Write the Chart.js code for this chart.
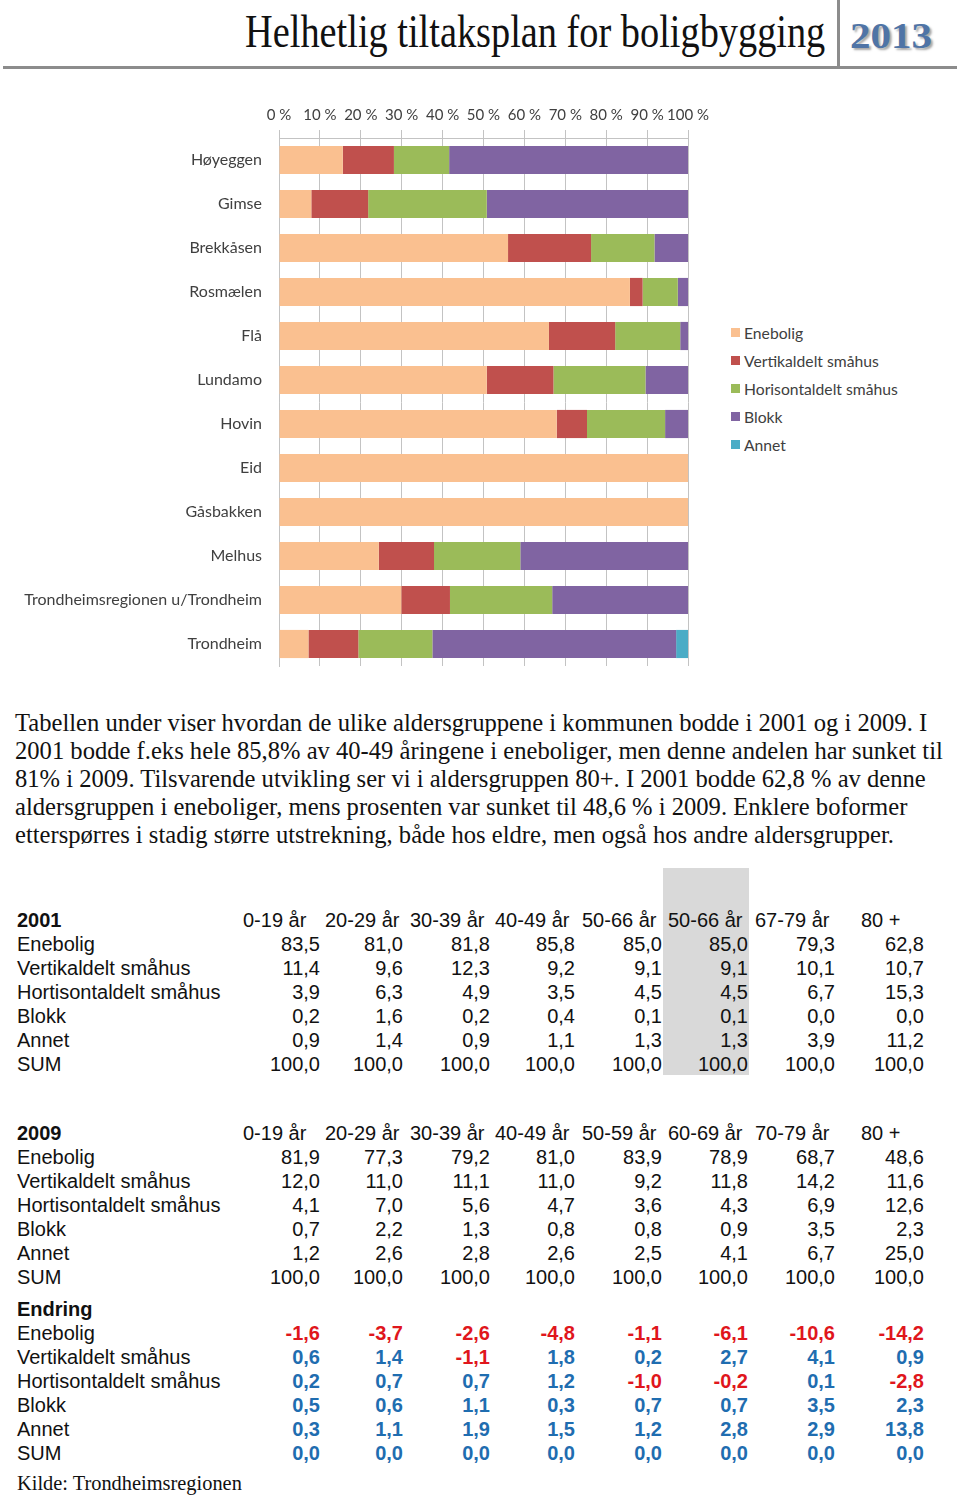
<!DOCTYPE html>
<html lang="no">
<head>
<meta charset="utf-8">
<title>Helhetlig tiltaksplan for boligbygging 2013</title>
<script src="https://cdn.jsdelivr.net/npm/chart.js@4.4.0/dist/chart.umd.min.js"></script>
<style>
  html, body { margin: 0; padding: 0; background: #fff; }
  body { width: 960px; height: 1495px; position: relative; overflow: hidden; }
  .abs { position: absolute; white-space: nowrap; }
  #tittel { font-family: "Liberation Serif", serif; font-size: 46px; line-height: 60px; color: #111; transform-origin: right center; }
  #aar { font-family: "Liberation Serif", serif; font-weight: bold; font-size: 36px; line-height: 44px; color: #4f74a6; text-shadow: 2px 2px 2px rgba(0,0,0,0.35); transform-origin: left center; }
  .tekst { font-family: "Liberation Serif", "Times New Roman", serif; font-size: 24.6px; line-height: 28px; color: #111; }
  .tab { font-family: "Liberation Sans", Arial, sans-serif; font-size: 20px; line-height: 24px; color: #111; }
  .tall { text-align: right; width: 90px; }
  .leg { font-family: Lato, sans-serif; font-size: 15.7px; line-height: 20px; color: #404040; }
</style>
</head>
<body>
<div id="tittel" class="abs">Helhetlig tiltaksplan for boligbygging</div>
<div id="aar" class="abs">2013</div>
<div class="abs" style="left:837px;top:0;width:3px;height:67px;background:#8c8c8c"></div>
<div class="abs" style="left:3px;top:66px;width:954px;height:3px;background:#8c8c8c"></div>

<div class="abs" style="left:0;top:90px;width:710px;height:590px"><canvas id="chart"></canvas></div>
<div id="legend"></div>

<div class="abs" style="left:663px;top:868px;width:86px;height:207px;background:#d9d9d9"></div>
<div id="innhold"></div>

<script>
// Data lest av diagrammet (andel boliger, %)
var steder = ["Høyeggen", "Gimse", "Brekkåsen", "Rosmælen", "Flå", "Lundamo", "Hovin", "Eid",
  "Gåsbakken", "Melhus", "Trondheimsregionen u/Trondheim", "Trondheim"];
var enebolig     = [15.6, 7.9, 56.0, 85.8, 66.0, 50.8, 67.9, 100, 100, 24.4, 29.9, 7.2];
var vertikaldelt = [12.5, 13.9, 20.3, 3.1, 16.2, 16.3, 7.4, 0, 0, 13.5, 11.9, 12.2];
var horisontal   = [13.5, 29.0, 15.5, 8.6, 15.9, 22.5, 19.1, 0, 0, 21.1, 25.0, 18.1];
var blokk        = [58.4, 49.2, 8.2, 2.5, 1.9, 10.4, 5.6, 0, 0, 41.0, 33.2, 59.6];
var annet        = [0, 0, 0, 0, 0, 0, 0, 0, 0, 0, 0, 2.9];
var serieNavn  = ["Enebolig", "Vertikaldelt småhus", "Horisontaldelt småhus", "Blokk", "Annet"];
var serieFarge = ["#fac090", "#c0504d", "#9bbb59", "#8064a2", "#4bacc6"];

// Tabelldata
var alder2001 = ["0-19 år", "20-29 år", "30-39 år", "40-49 år", "50-66 år", "50-66 år", "67-79 år", "80 +"];
var alder2009 = ["0-19 år", "20-29 år", "30-39 år", "40-49 år", "50-59 år", "60-69 år", "70-79 år", "80 +"];
var boformer = ["Enebolig", "Vertikaldelt småhus", "Hortisontaldelt småhus", "Blokk", "Annet", "SUM"];
var tall2001 = [
  [83.5, 81.0, 81.8, 85.8, 85.0, 85.0, 79.3, 62.8],
  [11.4, 9.6, 12.3, 9.2, 9.1, 9.1, 10.1, 10.7],
  [3.9, 6.3, 4.9, 3.5, 4.5, 4.5, 6.7, 15.3],
  [0.2, 1.6, 0.2, 0.4, 0.1, 0.1, 0.0, 0.0],
  [0.9, 1.4, 0.9, 1.1, 1.3, 1.3, 3.9, 11.2],
  [100, 100, 100, 100, 100, 100, 100, 100]
];
var tall2009 = [
  [81.9, 77.3, 79.2, 81.0, 83.9, 78.9, 68.7, 48.6],
  [12.0, 11.0, 11.1, 11.0, 9.2, 11.8, 14.2, 11.6],
  [4.1, 7.0, 5.6, 4.7, 3.6, 4.3, 6.9, 12.6],
  [0.7, 2.2, 1.3, 0.8, 0.8, 0.9, 3.5, 2.3],
  [1.2, 2.6, 2.8, 2.6, 2.5, 4.1, 6.7, 25.0],
  [100, 100, 100, 100, 100, 100, 100, 100]
];
var endring = [
  [-1.6, -3.7, -2.6, -4.8, -1.1, -6.1, -10.6, -14.2],
  [0.6, 1.4, -1.1, 1.8, 0.2, 2.7, 4.1, 0.9],
  [0.2, 0.7, 0.7, 1.2, -1.0, -0.2, 0.1, -2.8],
  [0.5, 0.6, 1.1, 0.3, 0.7, 0.7, 3.5, 2.3],
  [0.3, 1.1, 1.9, 1.5, 1.2, 2.8, 2.9, 13.8],
  [0, 0, 0, 0, 0, 0, 0, 0]
];
var avsnitt = [
  "Tabellen under viser hvordan de ulike aldersgruppene i kommunen bodde i 2001 og i 2009. I",
  "2001 bodde f.eks hele 85,8% av 40-49 åringene i eneboliger, men denne andelen har sunket til",
  "81% i 2009. Tilsvarende utvikling ser vi i aldersgruppen 80+. I 2001 bodde 62,8 % av denne",
  "aldersgruppen i eneboliger, mens prosenten var sunket til 48,6 % i 2009. Enklere boformer",
  "etterspørres i stadig større utstrekning, både hos eldre, men også hos andre aldersgrupper."
];

var gridFarge = "#c3c3c3";
var serier = [enebolig, vertikaldelt, horisontal, blokk, annet];

var chart = new Chart(document.getElementById("chart"), {
  type: "bar",
  data: {
    labels: steder,
    datasets: serier.map(function (d, i) {
      return {
        label: serieNavn[i],
        data: d,
        backgroundColor: serieFarge[i],
        borderWidth: 0,
        categoryPercentage: 1,
        barPercentage: 0.64
      };
    })
  },
  options: {
    indexAxis: "y",
    responsive: true,
    maintainAspectRatio: false,
    animation: false,
    layout: { padding: { left: 0, right: 22, top: 0, bottom: 14 } },
    plugins: { legend: { display: false }, tooltip: { enabled: false } },
    scales: {
      x: {
        position: "top",
        stacked: true,
        min: 0,
        max: 100,
        // fast høyde, og ingen ekstra luft for etikettene
        afterFit: function (s) { s.height = 48; s.paddingLeft = 0; s.paddingRight = 0; },
        ticks: {
          stepSize: 10,
          padding: 6,
          maxRotation: 0,
          minRotation: 0,
          autoSkip: false,
          color: "#404040",
          font: { family: "Lato", size: 15 },
          callback: function (v) { return v + " %"; }
        },
        grid: { color: gridFarge, tickLength: 8, drawTicks: true },
        border: { display: true, color: gridFarge }
      },
      y: {
        stacked: true,
        afterFit: function (s) { s.width = 279; s.paddingTop = 0; s.paddingBottom = 0; },
        ticks: {
          padding: 17,
          color: "#404040",
          font: { family: "Lato", size: 16 }
        },
        grid: { display: false, drawTicks: false },
        border: { display: true, color: gridFarge }
      }
    }
  }
});

// Forklaring (legend) bygget fra datasettene
var legend = document.getElementById("legend");
chart.data.datasets.forEach(function (ds, i) {
  var y = 333 + i * 28;
  var box = document.createElement("div");
  box.className = "abs";
  box.style.cssText = "left:731px;top:" + (y - 5) + "px;width:9px;height:9px;background:" + ds.backgroundColor;
  legend.appendChild(box);
  var t = document.createElement("div");
  t.className = "abs leg";
  t.style.left = "744px";
  t.style.top = (y - 10) + "px";
  t.textContent = ds.label;
  legend.appendChild(t);
});

// Tekst og tabeller
var innhold = document.getElementById("innhold");
function leggTil(tekst, klasse, left, midtY, hoyde, ekstra) {
  var d = document.createElement("div");
  d.className = "abs " + klasse;
  d.style.left = left + "px";
  d.style.top = (midtY - hoyde / 2) + "px";
  if (ekstra) d.style.cssText += ekstra;
  d.textContent = tekst;
  innhold.appendChild(d);
  return d;
}
function fmt(v) { return v.toFixed(1).replace(".", ","); }

avsnitt.forEach(function (linje, i) {
  leggTil(linje, "tekst", 15, 723 + i * 28, 28);
});

var tallHoyre = [320, 403, 490, 575, 662, 748, 835, 924];
var tittelVenstre = [243, 325, 410, 495, 582, 668, 755, 861];

function tabell(tittel, alder, tall, topY, farget) {
  leggTil(tittel, "tab", 17, topY, 24, "font-weight:bold;");
  if (alder) {
    alder.forEach(function (a, j) { leggTil(a, "tab", tittelVenstre[j], topY, 24); });
  }
  boformer.forEach(function (navn, r) {
    var y = topY + 24 * (r + 1);
    leggTil(navn, "tab", 17, y, 24);
    tall[r].forEach(function (v, j) {
      var stil = "";
      if (farget) stil = "font-weight:bold;color:" + (v < 0 ? "#e0161c" : "#1f6db0") + ";";
      leggTil(fmt(v), "tab tall", tallHoyre[j] - 90, y, 24, stil);
    });
  });
}
tabell("2001", alder2001, tall2001, 920, false);
tabell("2009", alder2009, tall2009, 1133, false);
tabell("Endring", null, endring, 1309, true);
leggTil("Kilde: Trondheimsregionen", "tekst", 17, 1483, 28, "font-size:20.4px;");

// Overskrift tilpasset bredden i originalen
var tittel = document.getElementById("tittel");
tittel.style.top = "2px";
tittel.style.left = (825 - tittel.offsetWidth) + "px";
tittel.style.transform = "scaleX(" + (580 / tittel.offsetWidth) + ")";
var aar = document.getElementById("aar");
aar.style.left = "850px";
aar.style.top = "14px";
aar.style.transform = "scaleX(" + (82 / aar.offsetWidth) + ")";
</script>
</body>
</html>
